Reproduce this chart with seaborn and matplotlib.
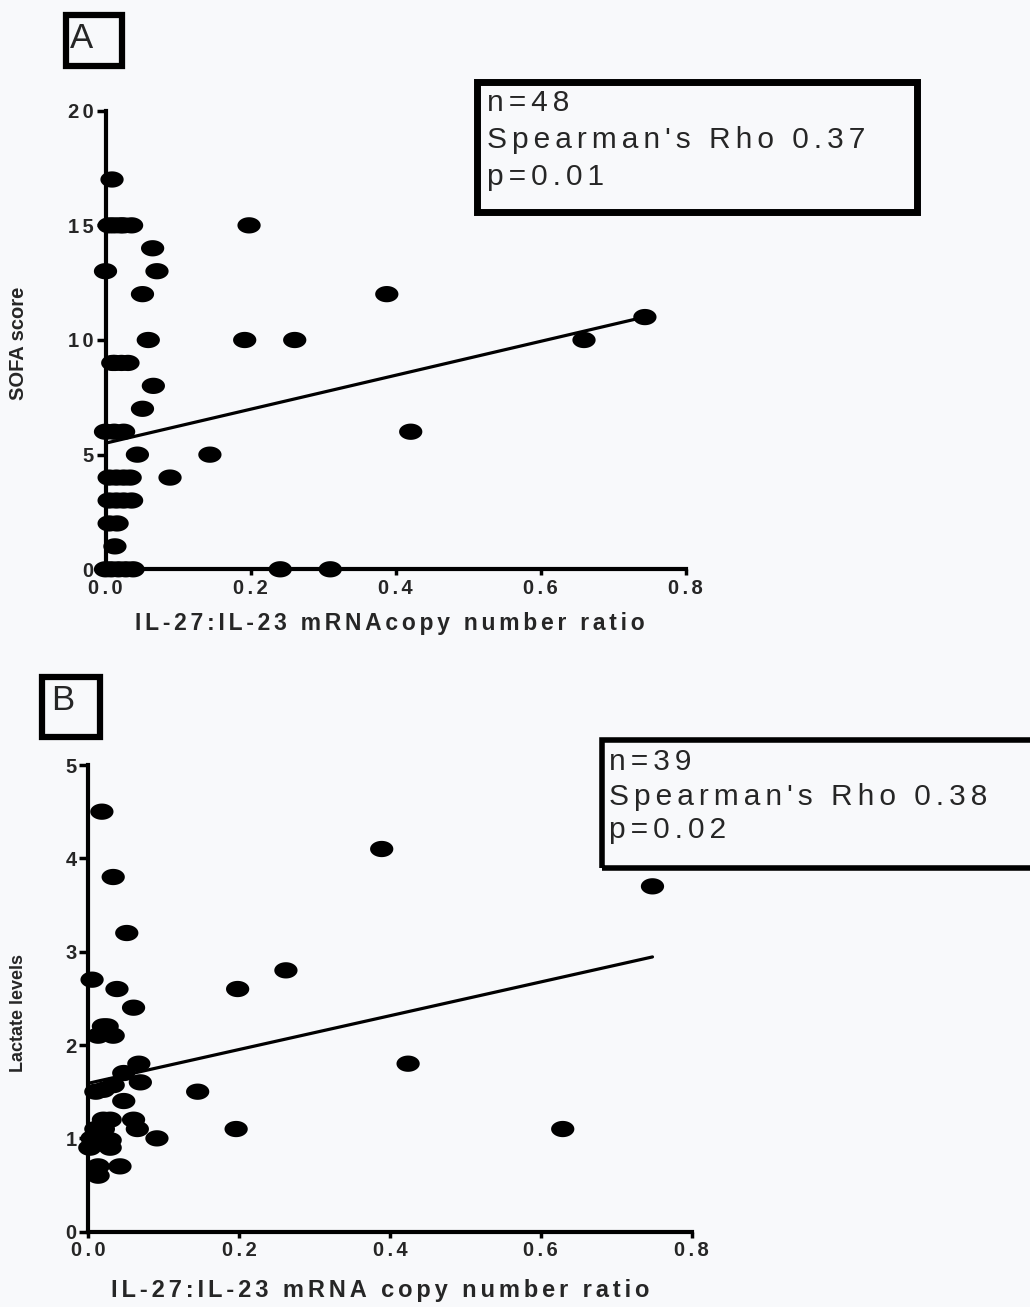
import numpy as np
import pandas as pd
import seaborn as sns
import matplotlib
matplotlib.use("Agg")
import matplotlib.pyplot as plt
from matplotlib.path import Path
from matplotlib.patches import Rectangle

# Panel A: SOFA score vs IL-27:IL-23 mRNA copy number ratio (n = 48)
sofa_ratio = [0.009, 0.005, 0.012, 0.020, 0.025, 0.036, 0.198, 0.065, 0.000, 0.071,
              0.051, 0.388, 0.744, 0.059, 0.192, 0.261, 0.660, 0.010, 0.013, 0.022,
              0.031, 0.066, 0.051, 0.000, 0.012, 0.025, 0.421, 0.044, 0.144, 0.005,
              0.015, 0.025, 0.034, 0.089, 0.005, 0.015, 0.025, 0.036, 0.005, 0.016,
              0.013, 0.000, 0.008, 0.018, 0.028, 0.038, 0.241, 0.310]
sofa_score = [17, 15, 15, 15, 15, 15, 15, 14, 13, 13,
              12, 12, 11, 10, 10, 10, 10, 9, 9, 9,
              9, 8, 7, 6, 6, 6, 6, 5, 5, 4,
              4, 4, 4, 4, 3, 3, 3, 3, 2, 2,
              1, 0, 0, 0, 0, 0, 0, 0]
# fitted linear regression (intercept, slope)
sofa_fit = [5.5, 7.4]

# Panel B: lactate vs IL-27:IL-23 mRNA copy number ratio (n = 39)
lact_ratio = [0.018, 0.033, 0.051, 0.005, 0.038, 0.198, 0.060, 0.020, 0.025, 0.013,
              0.033, 0.067, 0.047, 0.069, 0.033, 0.020, 0.010, 0.145, 0.047, 0.029,
              0.060, 0.020, 0.065, 0.196, 0.091, 0.020, 0.010, 0.029, 0.005, 0.002,
              0.029, 0.013, 0.042, 0.013, 0.262, 0.389, 0.424, 0.629, 0.748]
lact_level = [4.5, 3.8, 3.2, 2.7, 2.6, 2.6, 2.4, 2.2, 2.2, 2.1,
              2.1, 1.8, 1.7, 1.6, 1.57, 1.52, 1.5, 1.5, 1.4, 1.2,
              1.2, 1.2, 1.1, 1.1, 1.0, 1.1, 1.1, 0.98, 1.0, 0.9,
              0.9, 0.7, 0.7, 0.6, 2.8, 4.1, 1.8, 1.1, 3.7]
lact_fit = [1.59, 1.81]

ratio_ticks = [0.0, 0.2, 0.4, 0.6, 0.8]
ratio_tick_labels = ["0.0", "0.2", "0.4", "0.6", "0.8"]
sofa_ticks = [0, 5, 10, 15, 20]
lact_ticks = [0, 1, 2, 3, 4, 5]

stats_a = ["n=48", "Spearman's Rho 0.37", "p=0.01"]
stats_b = ["n=39", "Spearman's Rho 0.38", "p=0.02"]

sns.set_theme(style="white")
plt.rcParams['font.family'] = ['Liberation Sans', 'DejaVu Sans']
plt.rcParams['axes.linewidth'] = 3.0

GAP = '\u2006'


def spaced(s, sep=GAP):
    return sep.join(s)


# flat ellipse marker
t = np.linspace(0, 2 * np.pi, 80)
ellipse = Path(np.column_stack([np.cos(t), 0.7 * np.sin(t)]), closed=True)

BG = '#f8f9fb'
W, H = 1030, 1307
fig = plt.figure(figsize=(W / 100, H / 100), dpi=100, facecolor=BG)


def panel(rect, x, y, fit, yticks, ylim, tick_size):
    ax = fig.add_axes(rect)
    ax.set_facecolor(BG)
    df = pd.DataFrame({"x": x, "y": y})
    xs = np.array([df.x.min(), df.x.max()])
    line = pd.DataFrame({"x": xs, "y": fit[0] + fit[1] * xs})
    sns.lineplot(data=line, x="x", y="y", ax=ax, color="black", lw=2.3,
                 zorder=2)
    sns.scatterplot(data=df, x="x", y="y", ax=ax, marker=ellipse, s=280,
                    color="black", edgecolor="none", linewidth=0,
                    clip_on=False, zorder=4, legend=False)
    ax.set_xlim(0, 0.8)
    ax.set_ylim(*ylim)
    ax.set_xticks(ratio_ticks)
    ax.set_xticklabels([spaced(s) for s in ratio_tick_labels],
                       fontsize=tick_size, fontweight='bold')
    ax.set_yticks(yticks)
    ax.set_yticklabels([spaced(str(v)) for v in yticks],
                       fontsize=tick_size, fontweight='bold')
    for s in ("top", "right"):
        ax.spines[s].set_visible(False)
    for s in ("left", "bottom"):
        ax.spines[s].set_color("black")
        ax.spines[s].set_linewidth(3.0)
        ax.spines[s].set_capstyle("projecting")
    ax.tick_params(axis='y', direction='out', length=6.5, width=2.5,
                   color='black', left=True, pad=2)
    ax.tick_params(axis='x', direction='out', length=4, width=2.5,
                   color='black', bottom=True, pad=3)
    ax.set_xlabel("")
    ax.set_ylabel("")
    return ax


ax_a = panel([105.5 / W, 1 - 569.3 / H, 580 / W, 458.6 / H],
             sofa_ratio, sofa_score, sofa_fit, sofa_ticks, (0, 20), 14.5)
ax_b = panel([88.3 / W, 1 - 1231.7 / H, 603.4 / W, 466.7 / H],
             lact_ratio, lact_level, lact_fit, lact_ticks, (0, 5), 14.5)

# axis titles
fig.text(390 / W, 1 - 624 / H, spaced("IL-27:IL-23 mRNAcopy number ratio"),
         fontsize=16.5, fontweight='bold', ha='center', va='center')
fig.text(380 / W, 1 - 1290 / H, spaced("IL-27:IL-23 mRNA copy number ratio"),
         fontsize=17, fontweight='bold', ha='center', va='center')
fig.text(19 / W, 1 - 343 / H, "SOFA score", fontsize=14.5, fontweight='bold',
         rotation=90, ha='center', va='center')
fig.text(19 / W, 1 - 1013 / H, "Lactate levels", fontsize=13,
         fontweight='bold', rotation=90, ha='center', va='center')


def fig_box(x0, y0, x1, y1, lw):
    fig.add_artist(Rectangle((x0 / W, 1 - y1 / H), (x1 - x0) / W,
                             (y1 - y0) / H, transform=fig.transFigure,
                             fill=False, edgecolor='black', linewidth=lw,
                             clip_on=False))


# panel letters
narrow = ['Liberation Sans Narrow', 'Liberation Sans', 'DejaVu Sans']
fig_box(66, 15, 122, 66, 4.5)
fig.text(82 / W, 1 - 39 / H, "A", fontsize=25, ha='center', va='center',
         family=narrow)
fig_box(42, 677, 100, 737, 4.5)
fig.text(63 / W, 1 - 700 / H, "B", fontsize=25, ha='center', va='center',
         family=narrow)

# statistics boxes
fig_box(477, 82, 917, 212, 5)
for txt, yy in zip(stats_a, [103, 140, 177]):
    fig.text(487 / W, 1 - yy / H, spaced(txt), fontsize=21.5,
             ha='left', va='center')
fig_box(602, 740, 1045, 868, 4)
for txt, yy in zip(stats_b, [762, 797, 830]):
    fig.text(609 / W, 1 - yy / H, spaced(txt), fontsize=21.5,
             ha='left', va='center')

fig.savefig("out.png", dpi=100, facecolor=BG)
